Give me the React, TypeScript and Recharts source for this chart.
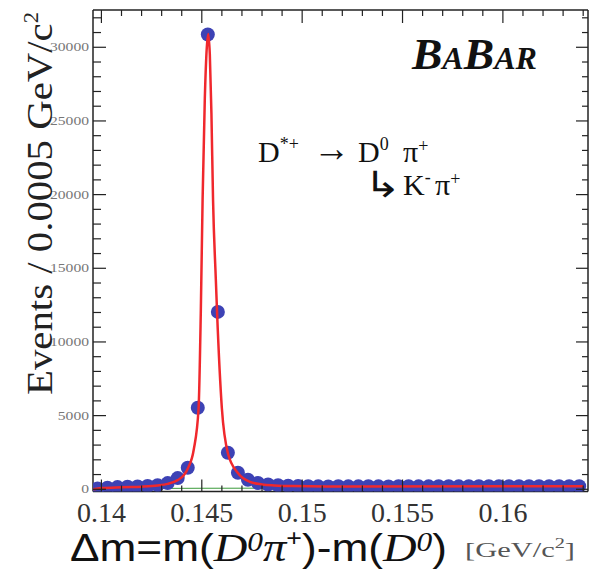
import React from 'react';
import { ComposedChart, Line, XAxis, YAxis } from 'recharts';

// ---- data ----
const binCenters = [
  0.1398, 0.1403, 0.1408, 0.1413, 0.1418, 0.1423, 0.1428, 0.1433, 0.1438, 0.1443,
  0.1448, 0.1453, 0.1458, 0.1463, 0.1468, 0.1473, 0.1478, 0.1483, 0.1488, 0.1493,
  0.1498, 0.1503, 0.1508, 0.1513, 0.1518, 0.1523, 0.1528, 0.1533, 0.1538, 0.1543,
  0.1548, 0.1553, 0.1558, 0.1563, 0.1568, 0.1573, 0.1578, 0.1583, 0.1588, 0.1593,
  0.1598, 0.1603, 0.1608, 0.1613, 0.1618, 0.1623, 0.1628, 0.1633, 0.1638,
];
const eventCounts = [
  50, 110, 150, 170, 190, 220, 280, 420, 760, 1460,
  5530, 30870, 12040, 2480, 1120, 650, 430, 330, 270, 240,
  220, 205, 200, 195, 205, 200, 198, 205, 200, 196,
  202, 205, 198, 200, 207, 203, 199, 205, 208, 202,
  206, 204, 210, 205, 208, 212, 206, 210, 212,
];

const fitX = [
  0.1396, 0.1400, 0.1410, 0.1420, 0.1428, 0.1433, 0.1438, 0.1441, 0.1443, 0.1446,
  0.14484, 0.14495, 0.14504, 0.14515, 0.14525, 0.14532, 0.1454, 0.14548, 0.14556, 0.1457,
  0.14576, 0.1460, 0.1463, 0.1468, 0.1474, 0.1480, 0.1486, 0.1495, 0.1520, 0.1640,
];
const fitY = [
  0, 80, 140, 180, 260, 370, 620, 950, 1400, 2700,
  5500, 12000, 19660, 26500, 30000, 30900, 29500, 25500, 19660, 14200,
  12040, 5500, 2450, 1100, 500, 330, 260, 215, 195, 200,
];

const bgX = [0.1396, 0.1400, 0.1420, 0.1450, 0.1500, 0.1640];
const bgY = [0, 30, 55, 70, 80, 95];

const xTicks = [
  0.14, 0.141, 0.142, 0.143, 0.144, 0.145, 0.146, 0.147, 0.148, 0.149,
  0.15, 0.151, 0.152, 0.153, 0.154, 0.155, 0.156, 0.157, 0.158, 0.159,
  0.16, 0.161, 0.162, 0.163, 0.164,
];
const xLabelTicks = [0.14, 0.145, 0.15, 0.155, 0.16];
const xTickLabels = ['0.14', '0.145', '0.15', '0.155', '0.16'];

const yTicks = [
  0, 1000, 2000, 3000, 4000, 5000, 6000, 7000, 8000, 9000,
  10000, 11000, 12000, 13000, 14000, 15000, 16000, 17000, 18000, 19000,
  20000, 21000, 22000, 23000, 24000, 25000, 26000, 27000, 28000, 29000,
  30000, 31000, 32000,
];
const yLabelTicks = [0, 5000, 10000, 15000, 20000, 25000, 30000];
const yTickLabels = ['0', '5000', '10000', '15000', '20000', '25000', '30000'];

const points = binCenters.map((x, i) => ({ x, y: eventCounts[i] }));
const fit = fitX.map((x, i) => ({ x, y: fitY[i] }));
const bg = bgX.map((x, i) => ({ x, y: bgY[i] }));

const X_DOMAIN: [number, number] = [0.13958, 0.16424];
const Y_DOMAIN: [number, number] = [-150, 32530];

const AXIS = '#222';
const SERIF = '"Liberation Serif", "Times New Roman", serif';
const SANS = '"Liberation Sans", Arial, sans-serif';

const findIdx = (arr: number[], v: number) => arr.findIndex((t) => Math.abs(t - v) < 1e-7);

const BottomTick = (props: any) => {
  const { x, y, payload } = props;
  const idx = findIdx(xLabelTicks, payload.value);
  const major = idx >= 0;
  return (
    <g>
      <line x1={x} x2={x} y1={y} y2={y - (major ? 12 : 6)} stroke={AXIS} strokeWidth={1.2} />
      {major && (
        <text x={x} y={y + 30} textAnchor="middle" fontFamily={SERIF} fontSize={28} fill="#333">
          {xTickLabels[idx]}
        </text>
      )}
    </g>
  );
};

const TopTick = (props: any) => {
  const { x, y, payload } = props;
  const major = findIdx(xLabelTicks, payload.value) >= 0;
  return <line x1={x} x2={x} y1={y} y2={y + (major ? 13 : 6)} stroke={AXIS} strokeWidth={1.2} />;
};

const LeftTick = (props: any) => {
  const { x, y, payload } = props;
  const idx = findIdx(yLabelTicks, payload.value);
  const major = idx >= 0;
  const ax = x + 4;
  const label = major ? yTickLabels[idx] : '';
  return (
    <g>
      <line x1={ax} x2={ax + (major ? 13 : 8)} y1={y} y2={y} stroke={AXIS} strokeWidth={1.2} />
      {major && (
        <text
          x={x}
          y={y + 4}
          textAnchor="end"
          fontFamily={SERIF}
          fontSize={12}
          fill="#777"
          textLength={label.length * 7.8}
          lengthAdjust="spacingAndGlyphs"
        >
          {label}
        </text>
      )}
    </g>
  );
};

const RightTick = (props: any) => {
  const { x, y, payload } = props;
  const major = findIdx(yLabelTicks, payload.value) >= 0;
  return <line x1={x} x2={x - (major ? 12 : 6)} y1={y} y2={y} stroke={AXIS} strokeWidth={1.2} />;
};

const Dot = (props: any) => {
  const { cx, cy } = props;
  if (cx == null || cy == null) return null;
  return <circle cx={cx} cy={cy} r={7} fill="#3d42b5" />;
};

export default function App() {
  return (
    <div style={{ position: 'absolute', left: 0, top: 0, width: 594, height: 571, background: '#fff' }}>
      <ComposedChart width={594} height={571} margin={{ top: 9, right: 5, left: 0, bottom: 49.5 }}>
        <XAxis
          xAxisId="bottom"
          dataKey="x"
          type="number"
          domain={X_DOMAIN}
          allowDataOverflow
          ticks={xTicks}
          interval={0}
          tickSize={0}
          tickMargin={0}
          tickLine={false}
          height={30}
          axisLine={{ stroke: AXIS, strokeWidth: 1.5 }}
          tick={<BottomTick />}
        />
        <XAxis
          xAxisId="top"
          orientation="top"
          dataKey="x"
          type="number"
          domain={X_DOMAIN}
          allowDataOverflow
          ticks={xTicks}
          interval={0}
          tickSize={0}
          tickMargin={0}
          tickLine={false}
          height={1}
          axisLine={{ stroke: AXIS, strokeWidth: 1.5 }}
          tick={<TopTick />}
        />
        <YAxis
          yAxisId="left"
          type="number"
          domain={Y_DOMAIN}
          allowDataOverflow
          ticks={yTicks}
          interval={0}
          tickSize={0}
          tickMargin={4}
          tickLine={false}
          width={93}
          axisLine={{ stroke: AXIS, strokeWidth: 1.5 }}
          tick={<LeftTick />}
        />
        <YAxis
          yAxisId="right"
          orientation="right"
          type="number"
          domain={Y_DOMAIN}
          allowDataOverflow
          ticks={yTicks}
          interval={0}
          tickSize={0}
          tickMargin={0}
          tickLine={false}
          width={1}
          axisLine={{ stroke: AXIS, strokeWidth: 1.5 }}
          tick={<RightTick />}
        />
        <Line
          xAxisId="bottom"
          yAxisId="left"
          data={bg}
          dataKey="y"
          type="monotone"
          stroke="#3a9a3a"
          strokeWidth={1}
          dot={false}
          activeDot={false}
          isAnimationActive={false}
        />
        <Line
          xAxisId="bottom"
          yAxisId="left"
          data={points}
          dataKey="y"
          stroke="none"
          dot={<Dot />}
          activeDot={false}
          isAnimationActive={false}
        />
        <Line
          {...({ zIndex: 1500 } as any)}
          xAxisId="bottom"
          yAxisId="left"
          data={fit}
          dataKey="y"
          type="monotone"
          stroke="#f0282d"
          strokeWidth={2.5}
          dot={false}
          activeDot={false}
          isAnimationActive={false}
        />
        <Line
          xAxisId="top"
          yAxisId="right"
          data={fit}
          dataKey="y"
          stroke="none"
          dot={false}
          activeDot={false}
          isAnimationActive={false}
        />
      </ComposedChart>

      <svg
        width={594}
        height={571}
        style={{ position: 'absolute', left: 0, top: 0, pointerEvents: 'none' }}
      >
        {/* y axis title */}
        <text
          x={52}
          y={395}
          transform="rotate(-90 52 395)"
          fontFamily={SERIF}
          fontSize={36}
          fill="#222"
          textLength={383}
          lengthAdjust="spacingAndGlyphs"
        >
          Events / 0.0005 GeV/c<tspan fontSize={20} dy={-14}>2</tspan>
        </text>

        {/* x axis title */}
        <text
          x={70}
          y={561}
          fontFamily={SANS}
          fontSize={38}
          fill="#111"
          textLength={377}
          lengthAdjust="spacingAndGlyphs"
        >
          Δm=m(
          <tspan fontFamily={SERIF} fontStyle="italic" fontSize={40}>D</tspan>
          <tspan fontFamily={SERIF} fontStyle="italic" fontSize={27} dy={-10}>0</tspan>
          <tspan fontFamily={SERIF} fontStyle="italic" fontSize={40} dy={10}>π</tspan>
          <tspan fontSize={23} dy={-15}>+</tspan>
          <tspan dy={15}>)-m(</tspan>
          <tspan fontFamily={SERIF} fontStyle="italic" fontSize={40}>D</tspan>
          <tspan fontFamily={SERIF} fontStyle="italic" fontSize={27} dy={-10}>0</tspan>
          <tspan dy={10}>)</tspan>
        </text>
        <text
          x={465}
          y={557}
          fontFamily={SERIF}
          fontSize={21}
          fill="#555"
          textLength={110}
          lengthAdjust="spacingAndGlyphs"
        >
          [GeV/c<tspan fontSize={14} dy={-9}>2</tspan>
          <tspan dy={9}>]</tspan>
        </text>

        {/* decay annotation */}
        <text y={162} fontFamily={SERIF} fontSize={30} fill="#111">
          <tspan x={258}>D</tspan>
          <tspan fontSize={18} dy={-12}>*+</tspan>
          <tspan x={358} dy={12}>D</tspan>
          <tspan fontSize={18} dy={-12}>0</tspan>
          <tspan x={403} dy={12}>π</tspan>
          <tspan fontSize={18} dy={-10}>+</tspan>
        </text>
        <text
          x={313}
          y={161}
          fontFamily={SERIF}
          fontSize={38}
          fill="#111"
          textLength={37}
          lengthAdjust="spacingAndGlyphs"
        >
          →
        </text>
        <text y={195} fontFamily={SERIF} fontSize={30} fill="#111">
          <tspan x={403}>K</tspan>
          <tspan fontSize={18} dy={-12}>-</tspan>
          <tspan x={435} dy={12}>π</tspan>
          <tspan fontSize={18} dy={-10}>+</tspan>
        </text>
        <text
          x={364}
          y={197}
          fontFamily={SERIF}
          fontSize={36}
          fill="#111"
          textLength={37}
          lengthAdjust="spacingAndGlyphs"
        >
          ↳
        </text>

        {/* BaBar logo */}
        <text
          x={412}
          y={69}
          fontFamily={SERIF}
          fontWeight="bold"
          fontStyle="italic"
          fill="#111"
          textLength={125}
          lengthAdjust="spacingAndGlyphs"
        >
          <tspan fontSize={44}>B</tspan>
          <tspan fontSize={31}>A</tspan>
          <tspan fontSize={44}>B</tspan>
          <tspan fontSize={31}>AR</tspan>
        </text>
      </svg>
    </div>
  );
}
